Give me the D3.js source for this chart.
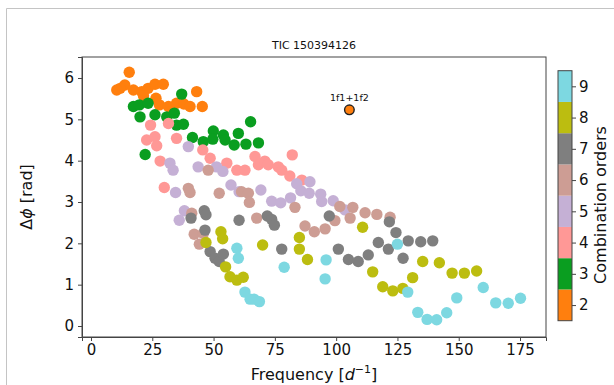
<!DOCTYPE html>
<html>
<head>
<meta charset="utf-8">
<script src="https://cdn.jsdelivr.net/npm/d3@7"></script>
<style>
  body { margin: 0; background: #fff; }
  text { font-family: "DejaVu Sans", sans-serif; fill: #111; }
  .axis path, .axis line { stroke: #444; }
  .axis text { font-size: 15px; fill: #111; font-family: "DejaVu Sans", sans-serif; }
</style>
</head>
<body>
<script>
// combination order of each group, frequencies (d^-1) and phase differences (rad)
var orders = [2, 3, 4, 5, 6, 7, 8, 9];

var freq2 = [15.6, 13.8, 11.9, 10.5, 17.3, 20.7, 23.3, 26.1, 29.5, 21.4, 26.5, 27.9, 31.6, 34.9, 37.9, 40.4, 43.1, 45.4];
var phase2 = [6.14, 5.83, 5.75, 5.71, 5.71, 5.67, 5.75, 5.85, 5.85, 5.57, 5.51, 5.35, 5.31, 5.39, 5.37, 5.31, 5.67, 5.31];

var freq3 = [37.0, 17.3, 19.7, 23.3, 20.0, 26.1, 30.9, 34.0, 34.9, 37.7, 22.1, 41.4, 45.8, 49.9, 49.7, 54.0, 54.7, 58.4, 60.1, 65.1, 63.2, 68.3];
var phase3 = [5.61, 5.31, 5.35, 5.39, 5.06, 5.11, 5.06, 5.15, 4.86, 4.88, 4.15, 4.56, 4.46, 4.72, 4.52, 4.62, 4.50, 4.38, 4.66, 4.94, 4.40, 4.43];

var freq4 = [24.3, 31.6, 22.7, 26.1, 26.8, 34.9, 28.2, 45.6, 48.6, 55.4, 59.5, 62.8, 66.9, 68.3, 70.9, 72.3, 76.4, 77.8, 81.1, 82.1, 86.0, 29.9];
var phase4 = [4.86, 4.90, 4.50, 4.58, 4.36, 4.54, 3.99, 4.26, 4.06, 3.94, 3.77, 3.77, 4.10, 3.90, 3.99, 3.90, 3.85, 3.77, 3.63, 4.14, 3.53, 3.35];

var freq5 = [39.7, 32.2, 33.5, 43.7, 51.2, 53.8, 34.5, 57.1, 60.4, 38.1, 36.0, 69.3, 83.9, 89.3, 85.6, 89.0, 93.7, 94.1, 98.8, 73.7, 77.4, 81.4, 103.6];
var phase5 = [4.34, 3.94, 3.77, 3.85, 3.85, 3.74, 3.23, 3.41, 3.25, 2.79, 2.56, 3.29, 3.44, 3.49, 3.27, 3.21, 3.19, 3.01, 3.03, 3.02, 2.98, 3.10, 2.81];

var freq6 = [47.8, 39.7, 40.4, 52.3, 41.1, 42.1, 45.8, 44.2, 61.4, 64.2, 64.6, 67.6, 83.2, 87.3, 91.1, 95.5, 99.5, 101.5, 106.8, 105.7, 111.8, 116.6, 122.0];
var phase6 = [3.77, 3.33, 3.23, 3.21, 2.73, 2.22, 2.24, 1.98, 3.25, 3.21, 2.99, 2.61, 2.87, 2.42, 2.28, 2.35, 2.55, 2.89, 2.87, 2.61, 2.74, 2.70, 2.63];

var freq7 = [40.8, 46.2, 46.9, 60.4, 46.5, 48.6, 50.6, 52.3, 54.0, 71.9, 73.7, 74.8, 97.2, 77.8, 100.9, 105.0, 109.0, 113.1, 117.2, 121.7, 121.3, 124.4, 129.4, 134.5, 139.4, 127.3];
var phase7 = [2.61, 2.79, 2.69, 2.56, 2.32, 1.80, 1.64, 1.56, 1.74, 2.66, 2.58, 2.44, 2.66, 1.86, 1.86, 1.61, 1.56, 1.72, 2.02, 2.52, 1.86, 2.26, 2.06, 2.04, 2.06, 1.64];

var freq8 = [46.9, 53.0, 53.7, 54.9, 56.7, 59.5, 62.1, 70.0, 85.0, 85.0, 88.3, 110.8, 114.9, 119.0, 123.1, 127.2, 131.2, 135.3, 142.1, 147.3, 152.3, 157.3];
var phase8 = [2.02, 2.28, 2.11, 1.43, 1.19, 1.11, 1.18, 1.96, 2.14, 1.86, 1.61, 2.39, 1.31, 0.95, 0.85, 0.91, 1.17, 1.56, 1.53, 1.28, 1.28, 1.33];

var freq9 = [59.5, 60.1, 78.8, 95.9, 95.5, 62.8, 64.9, 66.5, 68.7, 125.0, 129.2, 133.3, 137.1, 141.0, 145.1, 149.2, 160.0, 165.1, 170.2, 175.2];
var phase9 = [1.88, 1.64, 1.42, 1.60, 1.14, 0.82, 0.65, 0.65, 0.59, 1.98, 0.82, 0.33, 0.16, 0.15, 0.32, 0.68, 0.93, 0.56, 0.55, 0.67];

// the marked combination 1f1+1f2
var markName = "1f1+1f2", markFreq = 105.4, markPhase = 5.23;

var xTicks = [0, 25, 50, 75, 100, 125, 150, 175];
var yTicks = [0, 1, 2, 3, 4, 5, 6];
var colors = ["#ff7f0e", "#0a9e20", "#ff9896", "#c5b0d5", "#cd9d94", "#7f7f7f", "#bcbd10", "#7dd8e1"];

var groups = [[freq2, phase2], [freq3, phase3], [freq4, phase4], [freq5, phase5],
              [freq6, phase6], [freq7, phase7], [freq8, phase8], [freq9, phase9]];
var data = [];
groups.forEach(function(g, k) {
  g[0].forEach(function(f, i) { data.push({ f: f, p: g[1][i], order: orders[k] }); });
});

var W = 614, H = 385;
var plotL = 82, plotR = 546, plotT = 57, plotB = 337;

var x = d3.scaleLinear().domain([-3.67, 185.6]).range([plotL, plotR]);
var y = d3.scaleLinear().domain([-0.266, 6.508]).range([plotB, plotT]);
var color = d3.scaleOrdinal().domain(orders).range(colors);

var svg = d3.select("body").append("svg")
  .attr("width", W)
  .attr("height", H);

svg.append("rect").attr("width", W).attr("height", H).attr("fill", "#fff");

// light frame around the figure
svg.append("path")
  .attr("d", "M6.5," + H + "V8.5H" + W)
  .attr("fill", "none")
  .attr("stroke", "#c4c4c4");

svg.append("text")
  .attr("x", (plotL + plotR) / 2)
  .attr("y", 49)
  .attr("text-anchor", "middle")
  .attr("font-size", "11px")
  .text("TIC 150394126");

var g = svg.append("g");

g.selectAll(".dot").data(data).enter()
  .append("circle")
  .attr("class", "dot")
  .attr("cx", function(d) { return x(d.f); })
  .attr("cy", function(d) { return y(d.p); })
  .attr("r", 5.7)
  .attr("fill", function(d) { return color(d.order); });

g.append("circle")
  .attr("cx", x(markFreq))
  .attr("cy", y(markPhase))
  .attr("r", 4.8)
  .attr("fill", color(2))
  .attr("stroke", "#222")
  .attr("stroke-width", 1.4);

g.append("text")
  .attr("x", x(markFreq))
  .attr("y", y(markPhase) - 9)
  .attr("text-anchor", "middle")
  .attr("font-size", "9.5px")
  .text(markName);

// axes
svg.append("g")
  .attr("class", "axis")
  .attr("transform", "translate(0," + plotB + ")")
  .call(d3.axisBottom(x).tickValues(xTicks).tickSize(4).tickPadding(3));

svg.append("g")
  .attr("class", "axis")
  .attr("transform", "translate(" + plotL + ",0)")
  .call(d3.axisLeft(y).tickValues(yTicks).tickFormat(d3.format("d")).tickSize(4).tickPadding(4));

svg.append("rect")
  .attr("x", plotL).attr("y", plotT)
  .attr("width", plotR - plotL).attr("height", plotB - plotT)
  .attr("fill", "none")
  .attr("stroke", "#444");

var xl = svg.append("text")
  .attr("x", (plotL + plotR) / 2)
  .attr("y", 380)
  .attr("text-anchor", "middle")
  .attr("font-size", "16px");
xl.append("tspan").text("Frequency [");
xl.append("tspan").attr("font-style", "italic").text("d");
xl.append("tspan").attr("font-size", "11px").attr("dy", -7).text("\u22121");
xl.append("tspan").attr("dy", 7).text("]");

var yl = svg.append("text")
  .attr("transform", "translate(32," + ((plotT + plotB) / 2) + ") rotate(-90)")
  .attr("text-anchor", "middle")
  .attr("font-size", "16px");
yl.append("tspan").text("\u0394");
yl.append("tspan").attr("font-style", "italic").text("\u03d5");
yl.append("tspan").text(" [rad]");

// colorbar
var cbLeft = 558, cbWidth = 14, cbTop = 70.7, cbBottom = 320.7;
var cy = d3.scaleLinear().domain([1.5, 9.5]).range([cbBottom, cbTop]);

svg.selectAll(".cb").data(orders).enter()
  .append("rect")
  .attr("class", "cb")
  .attr("x", cbLeft)
  .attr("y", function(d) { return cy(d + 0.5); })
  .attr("width", cbWidth)
  .attr("height", function(d) { return cy(d - 0.5) - cy(d + 0.5); })
  .attr("fill", function(d) { return color(d); });

svg.append("rect")
  .attr("x", cbLeft).attr("y", cbTop)
  .attr("width", cbWidth).attr("height", cbBottom - cbTop)
  .attr("fill", "none").attr("stroke", "#444");

var cbAxis = svg.append("g")
  .attr("class", "axis")
  .attr("transform", "translate(" + (cbLeft + cbWidth) + ",0)")
  .call(d3.axisRight(cy).tickValues(orders).tickSize(4).tickPadding(3));
cbAxis.select(".domain").remove();

svg.append("text")
  .attr("transform", "translate(606,205) rotate(-90)")
  .attr("text-anchor", "middle")
  .attr("font-size", "16px")
  .text("Combination orders");
</script>
</body>
</html>
